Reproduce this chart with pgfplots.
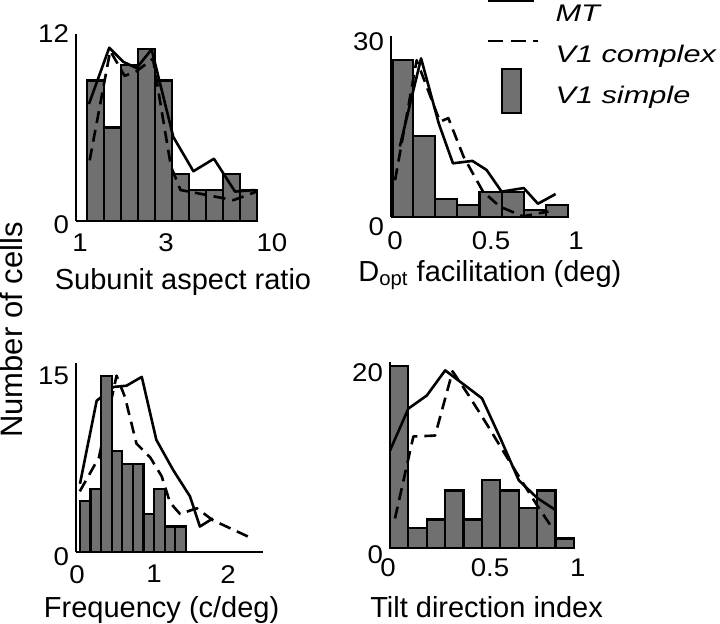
\documentclass[border=0pt]{standalone}
\usepackage{pgfplots}
\pgfplotsset{compat=1.18}
\usepackage{fontspec}
\setmainfont{Liberation Sans}[FakeStretch=1.08]
\newfontfamily\labfont{Liberation Sans}
\newfontfamily\legfont{Liberation Sans}[FakeStretch=1.28]
\definecolor{barg}{RGB}{112,112,112}

% tick label nudges: \yl{dy}{text}, \xl{dx}{text}
\newcommand\yl[2]{\raisebox{#1}[\height][\depth]{#2}}
\newcommand\xl[2]{\makebox[0pt]{\hspace{#1}\hspace{#1}#2}}

\pgfplotsset{
  panel/.style={
    scale only axis, anchor=south west,
    axis x line=bottom, axis y line=left,
    axis line style={-, line width=0.9pt},
    major tick length=0pt,
    ymin=0, enlargelimits=false, clip=false,
    /pgf/number format/assume math mode=true,
    tick label style={font=\fontsize{12.8}{15}\selectfont},
    xlabel style={font=\labfont\fontsize{14.5}{17}\selectfont, anchor=base},
  },
  hist/.style={ybar interval, fill=barg, draw=black, line width=1.1pt},
  mt/.style={black, line width=1.3pt, line join=round},
  cx/.style={black, line width=1.3pt, dash pattern=on 6pt off 3.5pt, line join=round},
}

\begin{document}
\begin{tikzpicture}
\useasboundingbox (0,0) rectangle (360pt,312pt);

% subunit aspect ratio (x in log10 units)
\begin{axis}[panel, at={(38pt,201.35pt)}, width=95pt, height=93.8pt,
    xmin=0, xmax=1, ymax=12,
    x axis line style={shorten >=4pt},
    xtick={0,0.4771,1}, xticklabels={\xl{2pt}{1},\xl{-0.3pt}{3},\xl{3pt}{10}},
    ytick={0,12}, yticklabels={\yl{-1.85pt}{0},12},
    xticklabel style={yshift=-2.6pt},
    xlabel={Subunit aspect ratio},
    xlabel style={at={(axis description cs:0.563,0)}, yshift=-34pt}]
\addplot[hist] coordinates {(0.058,9) (0.1473,6) (0.2366,10) (0.3259,11) (0.4152,9)
  (0.5045,3) (0.5938,2) (0.6831,2) (0.7724,3) (0.8617,2) (0.951,2)};
\addplot[mt] coordinates {(0.068,7.5) (0.175,11.1) (0.249,10.2) (0.319,9.8) (0.398,11)
  (0.512,5.4) (0.618,3.2) (0.726,4) (0.837,1.9) (0.942,2)};
\addplot[cx] coordinates {(0.072,3.9) (0.18,10.9) (0.256,9.3) (0.319,9.6) (0.405,10.4)
  (0.5,3.5) (0.55,2.0) (0.723,1.6) (0.828,1.35) (0.951,1.9)};
\end{axis}

% D_opt facilitation, with the legend
\begin{axis}[panel, at={(195.5pt,203.5pt)}, width=88.5pt, height=90.45pt,
    xmin=0, xmax=1, ymax=30,
    xtick={0,0.5,1}, xticklabels={\xl{2pt}{0},\xl{5.75pt}{0.5},\xl{4pt}{1}},
    ytick={0,30}, yticklabels={\yl{-4.85pt}{0},\yl{-2.8pt}{30}},
    xticklabel style={yshift=-3.9pt},
    xlabel={D\textsubscript{opt} facilitation (deg)},
    xlabel style={at={(axis description cs:0.559,0)}, yshift=-32.3pt},
    legend cell align=left,
    legend style={draw=none, fill=none, inner sep=0pt, outer sep=0pt,
      at={(axis description cs:0.542,1.178)}, anchor=north west,
      font=\legfont\itshape\fontsize{12}{14}\selectfont,
      nodes={inner sep=0pt, text height=9pt, text depth=3pt},
      row sep=8.5pt, column sep=10pt}]
\addplot[hist, forget plot] coordinates {(0.01,26) (0.125,13.4) (0.25,3) (0.375,2)
  (0.5,4.1) (0.625,4.1) (0.75,1.1) (0.875,2) (1,2)};
\addplot[mt, legend image code/.code={
    \draw[black,line width=1.3pt,overlay] (0pt,7.4pt) -- (23pt,7.4pt);
    \path (0pt,0pt) (23pt,0pt);}]
  coordinates {(0.05,11.7) (0.17,26.3) (0.27,15.5) (0.35,8.9) (0.46,9.3)
  (0.54,7.8) (0.625,4.2) (0.75,4.8) (0.83,2.2) (0.93,3.8)};
\addlegendentry{MT}
\addplot[cx, legend image code/.code={
    \draw[black,line width=1.3pt,dash pattern=on 7.5pt off 3.75pt,overlay] (0pt,8pt) -- (25pt,8pt);
    \path (0pt,0pt) (23pt,0pt);}]
  coordinates {(0.023,6.1) (0.145,26) (0.277,15.8) (0.324,16.4) (0.41,10)
  (0.52,4.2) (0.616,1.7) (0.747,0.1) (0.83,0.6) (0.89,0.9)};
\addlegendentry{V1 complex}
\addlegendimage{legend image code/.code={
    \draw[fill=barg,draw=black,line width=1pt,overlay] (6.85pt,-7.4pt) rectangle (16.15pt,14.3pt);
    \path (0pt,0pt) (23pt,0pt);}}
\addlegendentry{V1 simple}
\end{axis}

% frequency (lines under the bars here)
\begin{axis}[panel, at={(38pt,36.15pt)}, width=93.7pt, height=94.3pt,
    xmin=0, xmax=2.45, ymax=15,
    xtick={0,1,2}, xticklabels={\xl{0.5pt}{0},\xl{0.75pt}{1},\xl{-0.5pt}{2}},
    ytick={0,15}, yticklabels={\yl{-2.5pt}{0},\yl{-6.5pt}{15}},
    xticklabel style={yshift=-3.2pt},
    xlabel={Frequency (c/deg)},
    xlabel style={at={(axis description cs:0.457,0)}, yshift=-32.7pt},
    ylabel={Number of cells},
    ylabel style={at={(axis description cs:-0.344,1.175)}, anchor=center,
      font=\labfont\fontsize{15.5}{18}\selectfont}]
\addplot[mt] coordinates {(0.052,5.4) (0.27,12) (0.49,13.1) (0.66,13.2) (0.86,13.9)
  (1.05,8.9) (1.27,6.5) (1.49,4.4) (1.62,2.0) (1.79,2.65)};
\addplot[cx] coordinates {(0.05,4.8) (0.3,7.5) (0.53,14) (0.64,12.3) (0.79,8.6)
  (0.97,7.5) (1.12,6.0) (1.23,3.9) (1.36,3.0) (1.58,3.45) (1.79,2.5) (2.25,1.2)};
\addplot[hist] coordinates {(0.052,4) (0.1903,5) (0.3286,14) (0.4669,8) (0.6052,7)
  (0.7435,7) (0.8818,3) (1.0201,5) (1.1584,2) (1.2967,2) (1.435,2)};
\end{axis}

% tilt direction index
\begin{axis}[panel, at={(195pt,37.85pt)}, width=92pt, height=93.15pt,
    xmin=0, xmax=1, ymax=20,
    xtick={0,0.5,1}, xticklabels={\xl{-1pt}{0},\xl{4pt}{0.5},\xl{1.85pt}{1}},
    ytick={0,20}, yticklabels={\yl{-3.35pt}{0},\yl{-5.5pt}{20}},
    xticklabel style={yshift=-1.6pt},
    xlabel={Tilt direction index},
    xlabel style={at={(axis description cs:0.525,0)}, yshift=-34.8pt}]
\addplot[hist] coordinates {(0,19.6) (0.1,2.15) (0.2,3.1) (0.3,6.2) (0.4,3.1)
  (0.5,7.3) (0.6,6.2) (0.7,4.3) (0.8,6.2) (0.9,1.05) (1,1)};
\addplot[mt] coordinates {(0,10.5) (0.1,15) (0.2,16.4) (0.3,19.1) (0.4,17.6)
  (0.5,16.1) (0.6,11.8) (0.7,7.3) (0.8,5.4) (0.9,4.1)};
\addplot[cx] coordinates {(0.027,3.2) (0.127,12) (0.245,12.1) (0.34,19) (0.425,16.5)
  (0.53,13.2) (0.616,10.4) (0.707,7.5) (0.8,4.6) (0.888,2)};
\end{axis}
\end{tikzpicture}
\end{document}
